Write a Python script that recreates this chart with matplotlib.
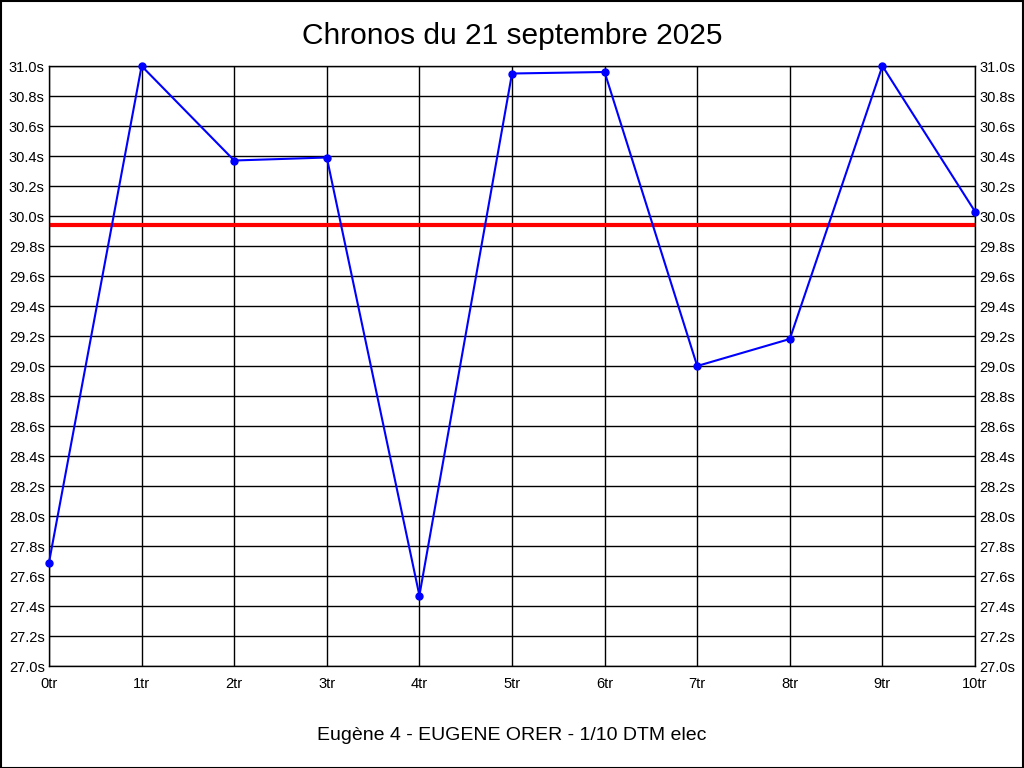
import matplotlib.pyplot as plt
from matplotlib.patches import Rectangle
import numpy as np

plt.rcParams['font.family'] = ['Liberation Sans', 'DejaVu Sans']

tours = [0, 1, 2, 3, 4, 5, 6, 7, 8, 9, 10]
tour_labels = ['%dtr' % t for t in tours]
chronos = [27.69, 31.0, 30.37, 30.39, 27.47, 30.95, 30.96, 29.0, 29.18, 31.0, 30.03]
moyenne = 29.94

fig = plt.figure(figsize=(10.24, 7.68), dpi=100)
ax = fig.add_axes([49/1024, 1 - 666/768, (975-49)/1024, 600/768])

ax.plot(tours, chronos, color='#0000ff', linewidth=1.5, marker='o', markersize=5, zorder=3, clip_on=False)
ax.axhline(moyenne, color='#ff0000', linewidth=3, zorder=2)

ax.set_xlim(0, 10)
ax.set_ylim(27.0, 31.0)
yt = np.arange(27.0, 31.01, 0.2)
ax.set_yticks(yt)
ax.set_yticklabels(['%.1fs' % v for v in yt])
ax.set_xticks(tours)
ax.set_xticklabels(tour_labels)
ax.grid(True, color='black', linewidth=1)
ax.tick_params(axis='both', length=0, labelsize=10.5, pad=3)
ax.tick_params(axis='y', left=True, right=True, labelleft=True, labelright=True, length=0)
ax.tick_params(axis='x', pad=8)
for s in ax.spines.values():
    s.set_linewidth(1)

fig.text(0.5, 1 - 36/768, 'Chronos du 21 septembre 2025', ha='center', va='center', fontsize=21.5)
fig.text(0.5, 1 - 735/768, 'Eugène 4 - EUGENE ORER - 1/10 DTM elec', ha='center', va='center', fontsize=14)

fig.patches.append(Rectangle((0.5/1024, 0.5/768), 1 - 1.5/1024, 1 - 1.5/768, transform=fig.transFigure,
                             fill=False, edgecolor='black', linewidth=1.5))

fig.savefig('out.png', dpi=100)
